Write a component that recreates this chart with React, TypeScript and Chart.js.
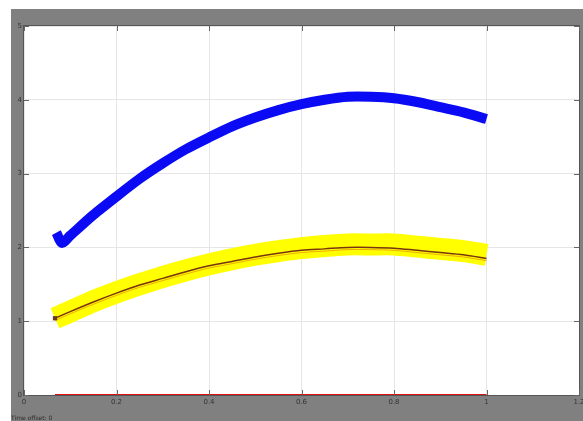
import React, { useEffect, useRef } from "react";
import { Chart, registerables } from "chart.js";

Chart.register(...registerables);

// Axis ticks (labels are illegible in the reference; estimated)
const xTicks = [0, 0.2, 0.4, 0.6, 0.8, 1, 1.2];
const yTicks = [0, 1, 2, 3, 4, 5];

// Blue signal
const blueX = [0.07, 0.082, 0.1, 0.15, 0.2, 0.25, 0.3, 0.35, 0.4, 0.45, 0.5, 0.55, 0.6, 0.65, 0.7, 0.75, 0.8, 0.85, 0.9, 0.95, 1.0];
const blueY = [2.2, 2.06, 2.16, 2.44, 2.69, 2.93, 3.14, 3.33, 3.49, 3.64, 3.76, 3.86, 3.94, 4.0, 4.04, 4.04, 4.02, 3.97, 3.9, 3.83, 3.74];

// Yellow band (centre)
const yellowX = [0.067, 0.1, 0.15, 0.2, 0.25, 0.3, 0.35, 0.4, 0.45, 0.5, 0.55, 0.6, 0.65, 0.7, 0.75, 0.8, 0.85, 0.9, 0.95, 1.0];
const yellowY = [1.04, 1.13, 1.27, 1.39, 1.5, 1.6, 1.69, 1.77, 1.84, 1.9, 1.95, 1.99, 2.02, 2.04, 2.04, 2.04, 2.01, 1.98, 1.95, 1.9];

// Dark line inside the yellow band
const darkX = [0.067, 0.1, 0.15, 0.2, 0.25, 0.3, 0.35, 0.4, 0.45, 0.5, 0.55, 0.6, 0.65, 0.7, 0.75, 0.8, 0.85, 0.9, 0.95, 1.0];
const darkY = [1.04, 1.13, 1.26, 1.38, 1.49, 1.58, 1.67, 1.75, 1.81, 1.87, 1.92, 1.96, 1.98, 2.0, 2.0, 1.99, 1.96, 1.93, 1.9, 1.85];

// Orange line just below the dark line
const orangeY = [1.01, 1.1, 1.23, 1.35, 1.46, 1.55, 1.64, 1.72, 1.78, 1.84, 1.89, 1.93, 1.95, 1.97, 1.97, 1.96, 1.93, 1.9, 1.87, 1.82];

// Red signal along zero
const redX = [0.067, 1.0];
const redY = [0, 0];

const footerText = "Time offset: 0";

const pts = (xs: number[], ys: number[]) => xs.map((x, i) => ({ x, y: ys[i] }));

const scopePlugin = {
  id: "scope",
  beforeDraw(chart: any) {
    const { ctx, chartArea: a, width, height } = chart;
    ctx.save();
    ctx.fillStyle = "#ffffff";
    ctx.fillRect(0, 0, width, height);
    ctx.fillStyle = "#808080";
    ctx.fillRect(11, 9, width - 11, height - 9);
    ctx.fillStyle = "#ffffff";
    ctx.fillRect(a.left, a.top, a.right - a.left, a.bottom - a.top);
    ctx.restore();
  },
  afterDraw(chart: any) {
    const { ctx, chartArea: a, scales } = chart;
    ctx.save();
    ctx.strokeStyle = "#555555";
    ctx.lineWidth = 1;
    ctx.strokeRect(a.left - 0.5, a.top - 0.5, a.right - a.left + 1, a.bottom - a.top + 1);
    ctx.strokeStyle = "#666666";
    ctx.beginPath();
    xTicks.forEach((t) => {
      const px = Math.round(scales.x.getPixelForValue(t)) + 0.5;
      ctx.moveTo(px, a.top);
      ctx.lineTo(px, a.top + 5);
      ctx.moveTo(px, a.bottom);
      ctx.lineTo(px, a.bottom - 5);
    });
    yTicks.forEach((t) => {
      const py = Math.round(scales.y.getPixelForValue(t)) + 0.5;
      ctx.moveTo(a.left, py);
      ctx.lineTo(a.left + 5, py);
      ctx.moveTo(a.right, py);
      ctx.lineTo(a.right - 5, py);
    });
    ctx.stroke();
    ctx.fillStyle = "#2a2a2a";
    ctx.font = "6px 'DejaVu Sans'";
    ctx.textBaseline = "bottom";
    ctx.fillText(footerText, 11, 421);
    ctx.restore();
  },
};

export default function App() {
  const ref = useRef<HTMLCanvasElement | null>(null);
  useEffect(() => {
    if (!ref.current) return;
    const chart = new Chart(ref.current, {
      type: "line",
      data: {
        datasets: [
          {
            data: pts(darkX, darkY),
            borderColor: "#7a3410",
            borderWidth: 1.5,
            pointRadius: (c: any) => (c.dataIndex === 0 ? 3 : 0),
            pointStyle: "rect",
            pointBackgroundColor: "#6b3a10",
            pointBorderWidth: 0,
            tension: 0.3,
            order: 0,
          },
          {
            data: pts(darkX, orangeY),
            borderColor: "rgba(230,120,0,0.6)",
            borderWidth: 1,
            pointRadius: 0,
            tension: 0.3,
            order: 1,
          },
          {
            data: pts(yellowX, yellowY),
            borderColor: "#ffff00",
            borderWidth: 22,
            borderCapStyle: "butt",
            pointRadius: 0,
            tension: 0.3,
            order: 2,
          },
          {
            data: pts(blueX, blueY),
            borderColor: "#0a0af5",
            borderWidth: 10,
            borderCapStyle: "butt",
            borderJoinStyle: "miter",
            pointRadius: 0,
            tension: 0.25,
            order: 3,
          },
          {
            data: pts(redX, redY),
            borderColor: "#e01010",
            borderWidth: 2,
            pointRadius: 0,
            order: 4,
          },
        ],
      },
      options: {
        animation: false,
        responsive: false,
        layout: { padding: { left: 11, top: 26, right: 3, bottom: 0 } },
        plugins: { legend: { display: false }, tooltip: { enabled: false } },
        scales: {
          x: {
            type: "linear",
            min: 0,
            max: 1.2,
            afterBuildTicks: (s: any) => {
              s.ticks = xTicks.map((v) => ({ value: v }));
            },
            afterFit: (s: any) => {
              s.height = 26;
              s.paddingLeft = 0;
              s.paddingRight = 0;
            },
            ticks: {
              color: "#333333",
              font: { size: 7, family: "'DejaVu Sans'" },
              padding: 3,
              maxRotation: 0,
              callback: (v: any) => String(v),
            },
            grid: { color: "#e6e6e6", drawTicks: false },
            border: { display: false },
          },
          y: {
            type: "linear",
            min: 0,
            max: 5,
            afterBuildTicks: (s: any) => {
              s.ticks = yTicks.map((v) => ({ value: v }));
            },
            afterFit: (s: any) => {
              s.width = 13;
              s.paddingTop = 0;
              s.paddingBottom = 0;
            },
            ticks: {
              color: "#333333",
              font: { size: 7, family: "'DejaVu Sans'" },
              padding: 2,
              callback: (v: any) => String(v),
            },
            grid: { color: "#e6e6e6", drawTicks: false },
            border: { display: false },
          },
        },
      },
      plugins: [scopePlugin],
    } as any);
    return () => chart.destroy();
  }, []);
  return (
    <canvas
      ref={ref}
      width={583}
      height={421}
      style={{ position: "absolute", left: 0, top: 0, display: "block", width: 583, height: 421 }}
    />
  );
}
